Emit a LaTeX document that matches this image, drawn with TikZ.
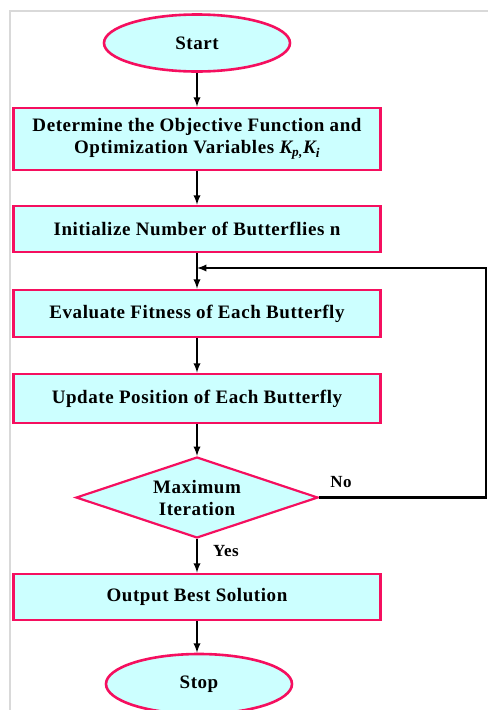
\documentclass[tikz,border=0pt]{standalone}
\usepackage{fontspec}
\setmainfont{Liberation Serif}[LetterSpace=3]
\usetikzlibrary{shapes.geometric}
\definecolor{boxfill}{HTML}{CCFFFF}
\definecolor{boxline}{HTML}{F50F5F}
\tikzset{
  procbox/.style={draw=boxline, fill=boxfill, line width=2.6pt, minimum width=367pt, inner sep=0pt, align=center, font=\bfseries\fontsize{19}{22}\selectfont},
  termnode/.style={ellipse, draw=boxline, fill=boxfill, line width=2.6pt, minimum width=186pt, inner sep=0pt, font=\bfseries\fontsize{19}{22}\selectfont},
  decnode/.style={diamond, aspect=3, draw=boxline, fill=boxfill, line width=2.2pt, minimum width=242pt, minimum height=81pt, inner sep=0pt, align=center, font=\bfseries\fontsize{19}{22}\selectfont},
  flow/.style={->, line width=2.2pt},
}
\begin{document}
\begin{tikzpicture}[x=1pt, y=-1pt, >=latex]
\useasboundingbox (0,0) rectangle (488,710);
% frame
\draw[gray!30, line width=1.6pt] (10,710) -- (10,11) -- (488,11);
\node[termnode, minimum height=57pt] (start) at (197,43) {Start};
\node[procbox, minimum height=62pt] (objfun) at (197,139) {Determine the Objective Function and\\Optimization Variables {\itshape K\textsubscript{p,}K\textsubscript{i}}};
\node[procbox, minimum height=46pt] (initpop) at (197,229) {Initialize Number of Butterflies n};
\node[procbox, minimum height=47pt] (evalfit) at (197,313.5) {Evaluate Fitness of Each Butterfly};
\node[procbox, minimum height=49pt] (updpos) at (197,398.5) {Update Position of Each Butterfly};
\node[decnode] (maxit) at (197,497.5) {Maximum\\Iteration};
\node[procbox, minimum height=46pt] (output) at (197,597) {Output Best Solution};
\node[termnode, minimum height=60pt] (stop) at (199,684) {Stop};
\coordinate (join) at (197,268);
\coordinate (rcorner) at (486,497.5);
\draw[flow] (start) -- (objfun);
\draw[flow] (objfun) -- (initpop);
\draw[flow] (initpop) -- (evalfit);
\draw[flow] (evalfit) -- (updpos);
\draw[flow] (updpos) -- (maxit);
\draw[flow] (maxit) -- (output);
\draw[flow] (output) -- (stop.north -| output.south);
\draw[flow] (maxit.east) -- (rcorner) |- (join);
\node[font=\bfseries\fontsize{17}{20}\selectfont] (nolbl) at (341,482) {No};
\node[font=\bfseries\fontsize{17}{20}\selectfont] (yeslbl) at (226,551) {Yes};
\end{tikzpicture}
\end{document}
